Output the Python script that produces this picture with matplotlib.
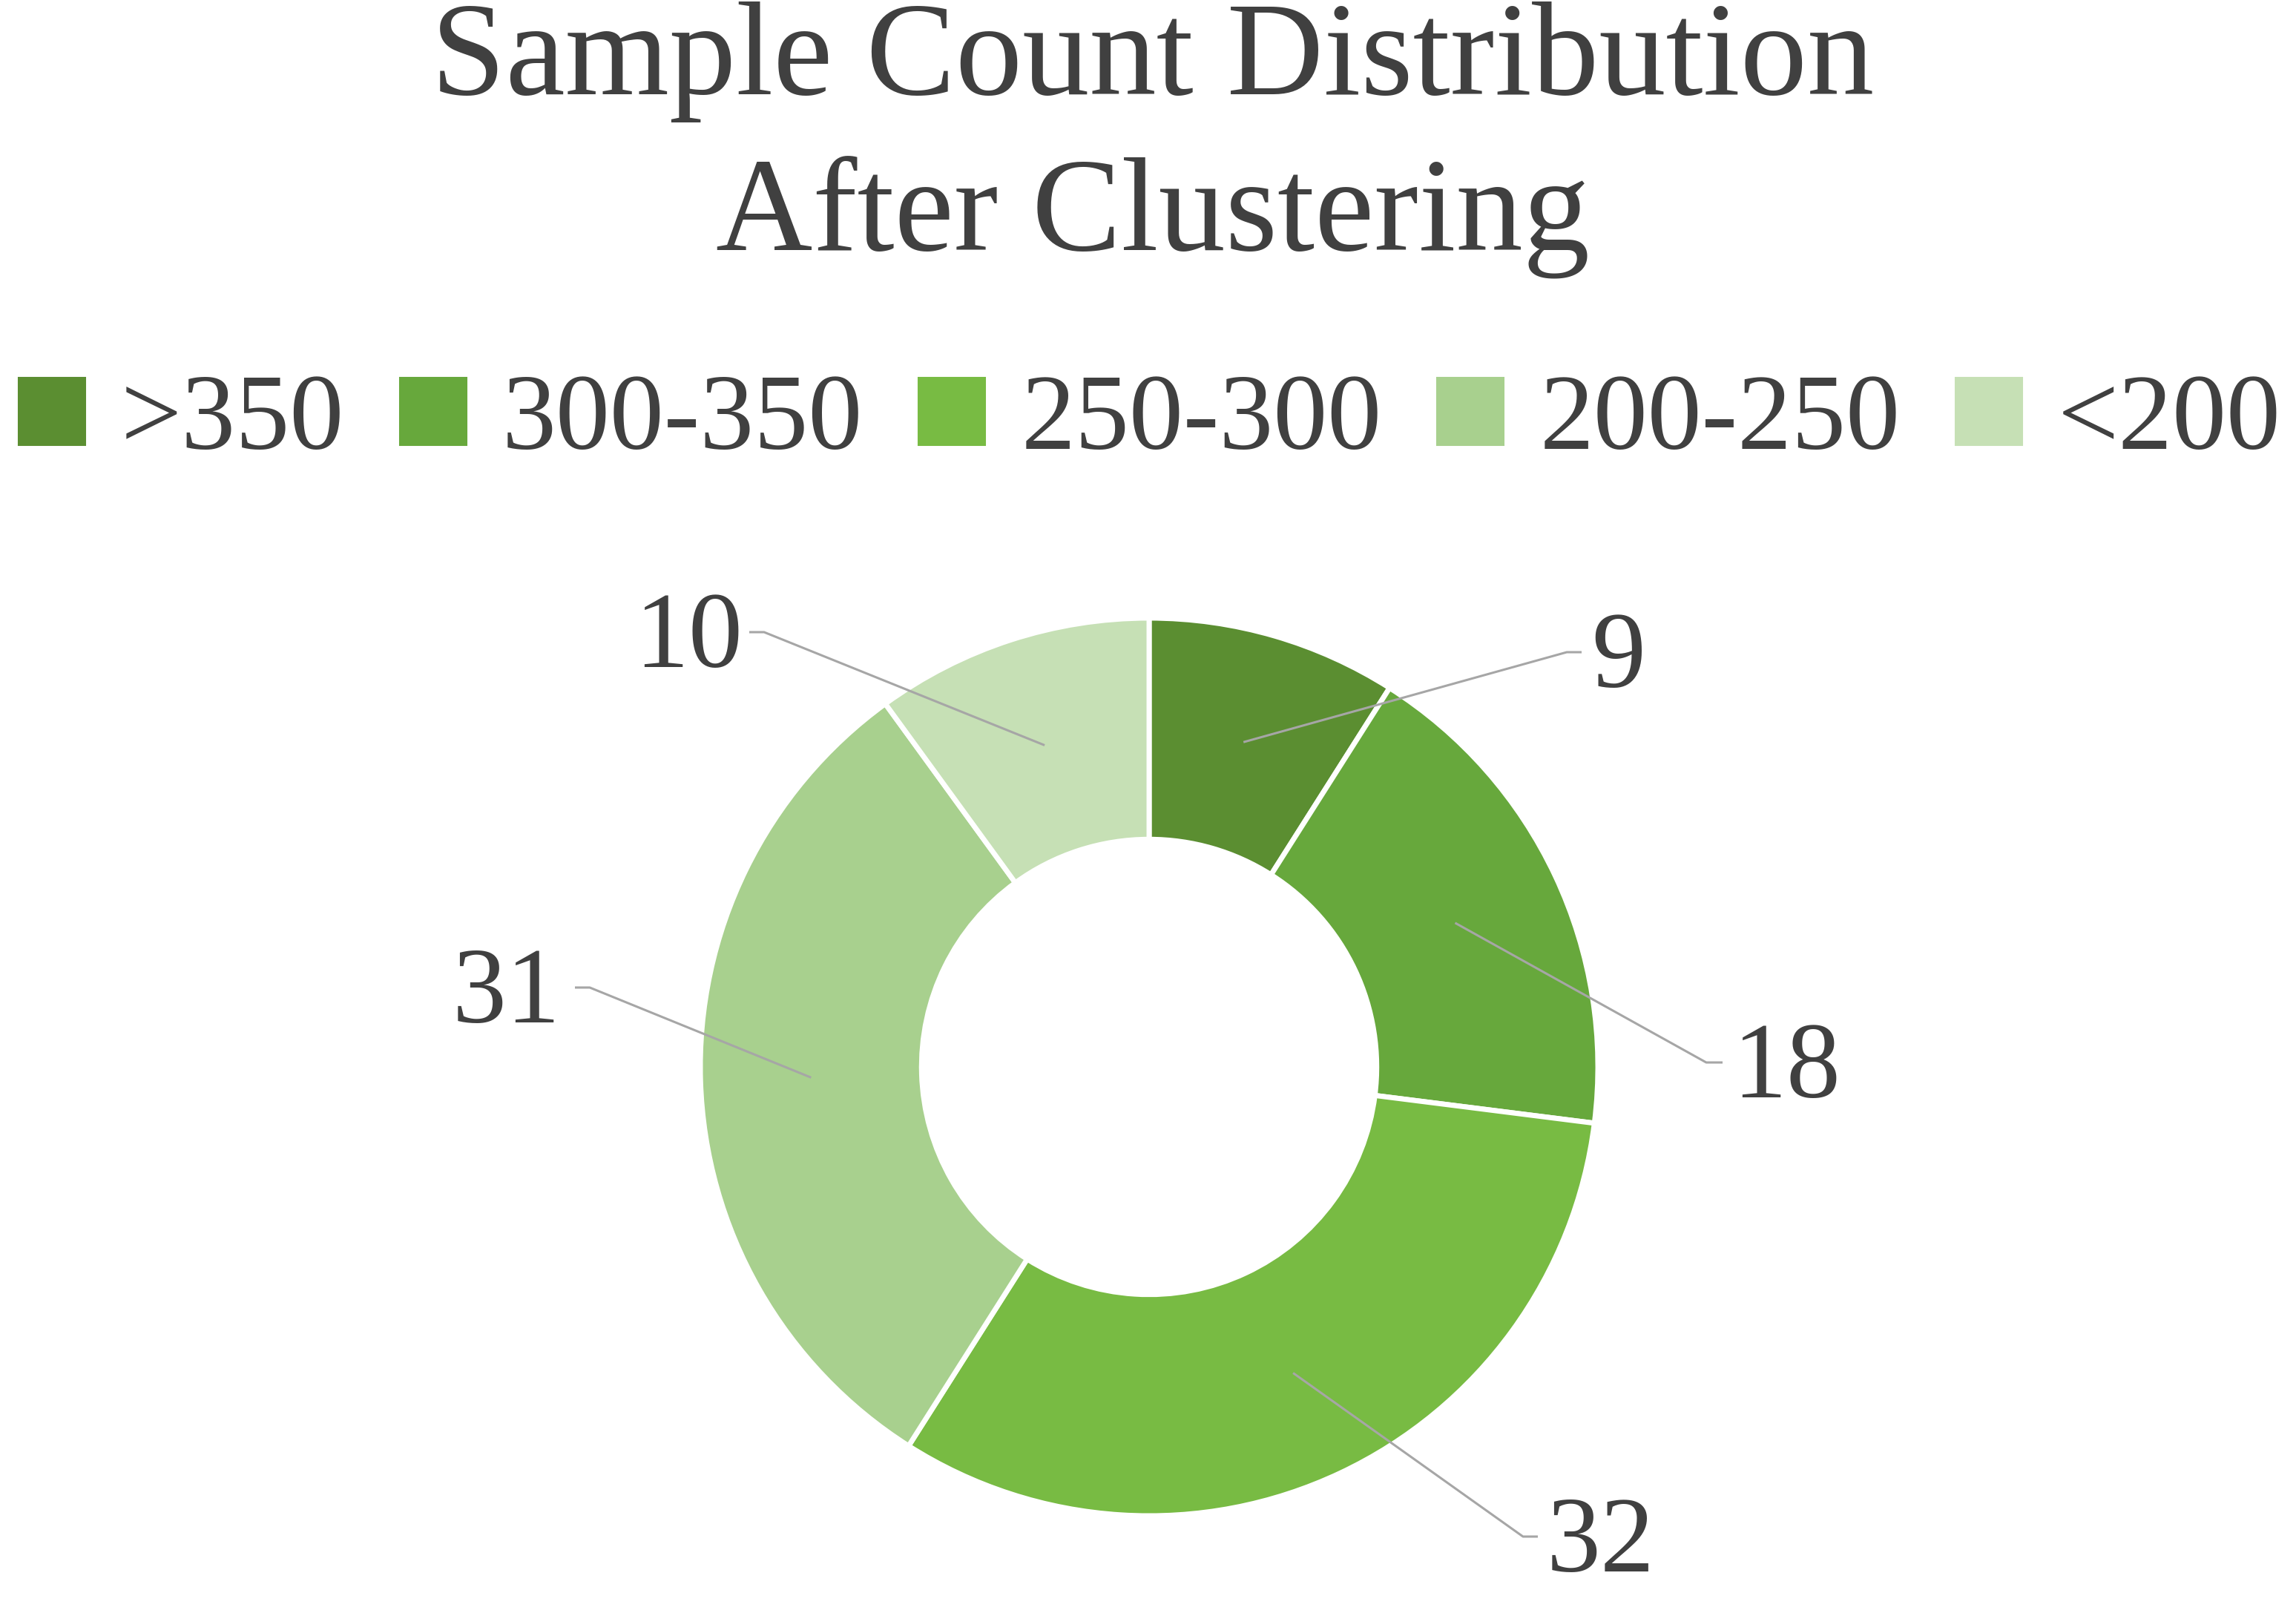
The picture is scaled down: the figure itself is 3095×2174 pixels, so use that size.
import numpy as np
import matplotlib.pyplot as plt

categories = [">350", "300-350", "250-300", "200-250", "<200"]
counts = [9, 18, 32, 31, 10]
colors = ["#5B8E31", "#67A83C", "#78BB43", "#A8D08E", "#C6E0B5"]

# label text anchor points (pixels, y up) and elbow x of leader line
label_xy = [(2182, 1295), (2408, 742), (2158, 103), (683, 843), (928, 1322)]
elbow_x = [2112, 2300, 2053, 795, 1030]
stub_x = [2132, 2322, 2073, 775, 1010]

TEXT = "#404040"
LINE = "#A6A6A6"
W, H = 3095, 2174

plt.rcParams["font.family"] = ["Liberation Serif", "DejaVu Serif"]

fig = plt.figure(figsize=(W / 100, H / 100), dpi=100)
ax = fig.add_axes([0, 0, 1, 1])

cx, cy, r_out = 1549, 736, 605
ring = 0.493

wedges, _ = ax.pie(
    counts,
    colors=colors,
    startangle=90,
    counterclock=False,
    center=(cx, cy),
    radius=r_out,
    wedgeprops=dict(width=r_out * ring, edgecolor="white", linewidth=5),
)
ax.set_xlim(0, W)
ax.set_ylim(0, H)
ax.set_aspect("equal")
ax.axis("off")

# leader lines from ring middle to labels
r_mid = r_out * (1 - ring / 2)
for w, val, (tx, ty), ex, sx in zip(wedges, counts, label_xy, elbow_x, stub_x):
    ang = np.deg2rad((w.theta1 + w.theta2) / 2)
    x0, y0 = cx + r_mid * np.cos(ang), cy + r_mid * np.sin(ang)
    ax.plot([x0, ex, sx], [y0, ty, ty], color=LINE, lw=2.2, solid_capstyle="butt")
    ax.text(tx, ty - 12, str(val), fontsize=105, color=TEXT, ha="center", va="center")

fig.text(0.502, 0.999, "Sample Count Distribution\nAfter Clustering",
         ha="center", va="top", fontsize=130, color=TEXT, linespacing=1.36)

fig.legend(wedges, categories, loc="center", bbox_to_anchor=(0.5, 0.738), ncol=5,
           frameon=False, fontsize=105, labelcolor=TEXT, handlelength=0.68,
           handleheight=0.68, handletextpad=0.3, columnspacing=0.48)

fig.savefig("out.png", dpi=100, facecolor="white")
